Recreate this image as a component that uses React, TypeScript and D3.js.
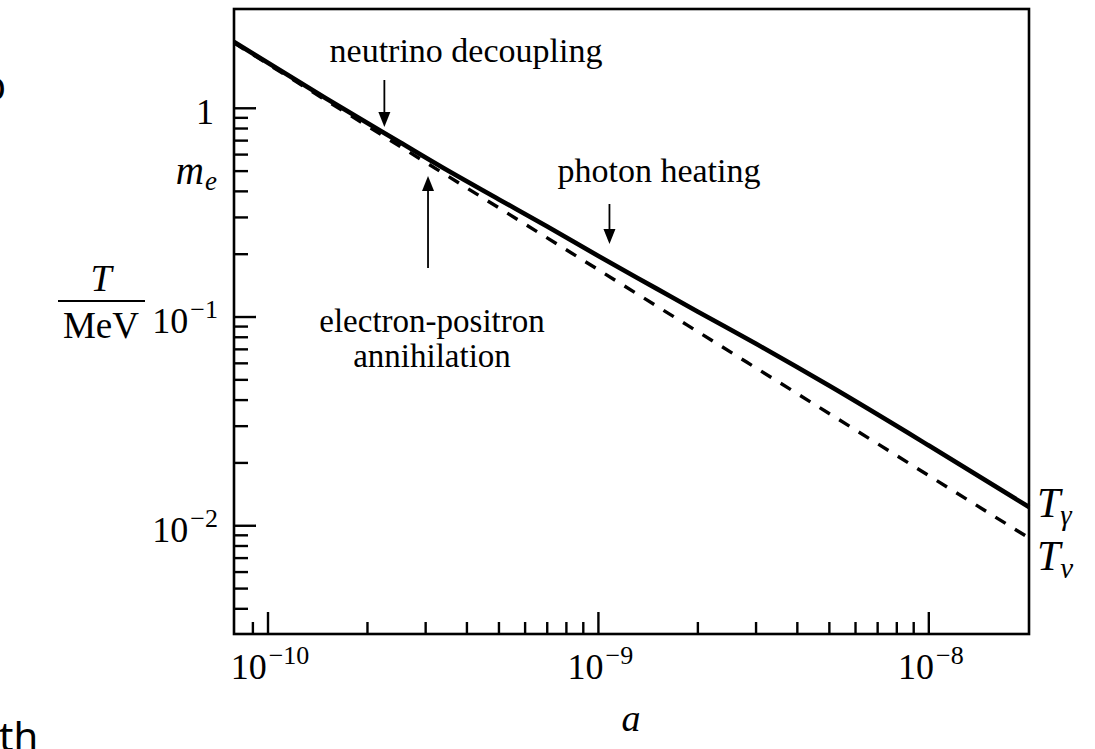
import React from 'react';
import * as d3 from 'd3';

// photon temperature T_gamma (solid)
const aGamma = [7.89e-11, 1.5e-10, 2.5e-10, 3.5e-10, 5e-10, 7e-10, 1e-9, 1.5e-9, 2e-9, 3e-9, 5e-9, 1e-8, 2.01e-8];
const tGamma = [2.078, 1.114, 0.689, 0.503, 0.366, 0.2714, 0.196, 0.1368, 0.106, 0.0744, 0.0468, 0.02423, 0.01229];
// neutrino temperature T_nu (dashed)
const aNu = [7.89e-11, 1e-10, 3e-10, 1e-9, 3e-9, 1e-8, 2.01e-8];
const tNu = [2.058, 1.628, 0.551, 0.1684, 0.057, 0.01738, 0.00874];

const xMajor = [1e-10, 1e-9, 1e-8];
const xMajorExp = ['10', '9', '8'];
const yMajor = [1, 0.1, 0.01];
const yMajorBase = ['1', '10', '10'];
const yMajorExp = ['', '1', '2'];
const mElectron = 0.511;

// annotation anchor points (scale factor a)
const annNeutrinoA = 2.25e-10;
const annPairA = 3.05e-10;
const annHeatA = 1.08e-9;

const W = 1095;
const H = 749;
const L = 234, R = 1029, T = 9, B = 634;
const serif = '"Liberation Serif", "DejaVu Serif", serif';
const MINUS = '\u2212';

export default function App() {
  const x = d3.scaleLog().domain([7.89e-11, 2.01e-8]).range([L, R]);
  const y = d3.scaleLog().domain([0.00303, 2.99]).range([B, T]);

  const gData = aGamma.map((a, i) => [a, tGamma[i]] as [number, number]);
  const nData = aNu.map((a, i) => [a, tNu[i]] as [number, number]);
  const line = d3
    .line<[number, number]>()
    .x((d) => x(d[0]))
    .y((d) => y(d[1]))
    .curve(d3.curveMonotoneX);

  const isMajor = (v: number, arr: number[]) => arr.some((m) => Math.abs(v / m - 1) < 1e-6);
  const xMinor = x.ticks().filter((v) => !isMajor(v, xMajor) && x(v) > L + 5 && x(v) < R - 5);
  const yMinor = y.ticks().filter((v) => !isMajor(v, yMajor) && v < 1 && y(v) < B - 5 && y(v) > T + 5);

  const arrowDown = (cx: number, y0: number, y1: number) => (
    <g>
      <line x1={cx} y1={y0} x2={cx} y2={y1 - 12} stroke="#000" strokeWidth={1.8} />
      <polygon points={`${cx - 6},${y1 - 15} ${cx + 6},${y1 - 15} ${cx},${y1}`} fill="#000" />
    </g>
  );
  const arrowUp = (cx: number, y0: number, y1: number) => (
    <g>
      <line x1={cx} y1={y0} x2={cx} y2={y1 + 12} stroke="#000" strokeWidth={1.8} />
      <polygon points={`${cx - 6},${y1 + 15} ${cx + 6},${y1 + 15} ${cx},${y1}`} fill="#000" />
    </g>
  );

  const sup = (exp: string) => (
    <tspan dx={2} dy={-15} fontSize={26}>{MINUS + exp}</tspan>
  );

  return (
    <svg
      width={W}
      height={H}
      style={{ position: 'absolute', left: 0, top: 0, background: '#fff' }}
      fontFamily={serif}
    >
      <rect x={0} y={0} width={W} height={H} fill="#fff" />

      {/* cropped fragments of surrounding page */}
      <text x={6} y={100} textAnchor="end" fontFamily='"Noto Sans", "DejaVu Sans", sans-serif' fontSize={40}>b</text>
      <text x={-1} y={751} fontFamily='"Noto Sans", "DejaVu Sans", sans-serif' fontSize={40}>th</text>

      {/* curves */}
      <path d={line(nData) || ''} fill="none" stroke="#000" strokeWidth={3.4} strokeDasharray="12 11" />
      <path d={line(gData) || ''} fill="none" stroke="#000" strokeWidth={4.6} />

      {/* frame */}
      <rect x={L} y={T} width={R - L} height={B - T} fill="none" stroke="#000" strokeWidth={2.6} />

      {/* x ticks */}
      {xMajor.map((v) => (
        <line key={'xM' + v} x1={x(v)} x2={x(v)} y1={B} y2={B - 22} stroke="#000" strokeWidth={2.4} />
      ))}
      {xMinor.map((v) => (
        <line key={'xm' + v} x1={x(v)} x2={x(v)} y1={B} y2={B - 12} stroke="#000" strokeWidth={2.4} />
      ))}
      {/* y ticks */}
      {yMajor.map((v) => (
        <line key={'yM' + v} x1={L} x2={L + 22} y1={y(v)} y2={y(v)} stroke="#000" strokeWidth={2.4} />
      ))}
      {yMinor.map((v) => (
        <line key={'ym' + v} x1={L} x2={L + 14} y1={y(v)} y2={y(v)} stroke="#000" strokeWidth={2.4} />
      ))}

      {/* x tick labels */}
      {xMajor.map((v, i) => (
        <text key={'xl' + v} x={x(v) + 2} y={679} textAnchor="middle" fontSize={36}>
          10
          {sup(xMajorExp[i])}
        </text>
      ))}
      {/* y tick labels */}
      {yMajor.map((v, i) =>
        yMajorExp[i] ? (
          <text key={'yl' + v} x={218} y={y(v) + 16} textAnchor="end" fontSize={36}>
            {yMajorBase[i]}
            {sup(yMajorExp[i])}
          </text>
        ) : (
          <text key={'yl' + v} x={214} y={y(v) + 16} textAnchor="end" fontSize={36}>
            {yMajorBase[i]}
          </text>
        )
      )}
      <text x={217} y={y(mElectron) + 15} textAnchor="end" fontSize={39} fontStyle="italic">
        m<tspan dx={1} dy={6} fontSize={27}>e</tspan>
      </text>

      {/* axis titles */}
      <text x={101} y={291} textAnchor="middle" fontSize={38} fontStyle="italic">T</text>
      <line x1={58} x2={145} y1={301} y2={301} stroke="#000" strokeWidth={1.8} />
      <text x={101} y={338} textAnchor="middle" fontSize={37}>MeV</text>
      <text x={631} y={731} textAnchor="middle" fontSize={38} fontStyle="italic">a</text>

      {/* series labels */}
      <text x={1037} y={517} fontSize={42} fontStyle="italic">
        T<tspan dy={8} fontSize={29}>γ</tspan>
      </text>
      <text x={1037} y={570} fontSize={42} fontStyle="italic">
        T<tspan dy={8} fontSize={29}>ν</tspan>
      </text>

      {/* annotations */}
      <text x={466} y={62} textAnchor="middle" fontSize={34}>
        neutrino decoupling
      </text>
      {arrowDown(x(annNeutrinoA), 80, 127)}

      <text x={659} y={182} textAnchor="middle" fontSize={34}>
        photon heating
      </text>
      {arrowDown(x(annHeatA), 204, 244)}

      {arrowUp(x(annPairA), 268, 176)}
      <text x={432} y={332} textAnchor="middle" fontSize={33}>
        electron-positron
      </text>
      <text x={432} y={367} textAnchor="middle" fontSize={33}>
        annihilation
      </text>
    </svg>
  );
}
